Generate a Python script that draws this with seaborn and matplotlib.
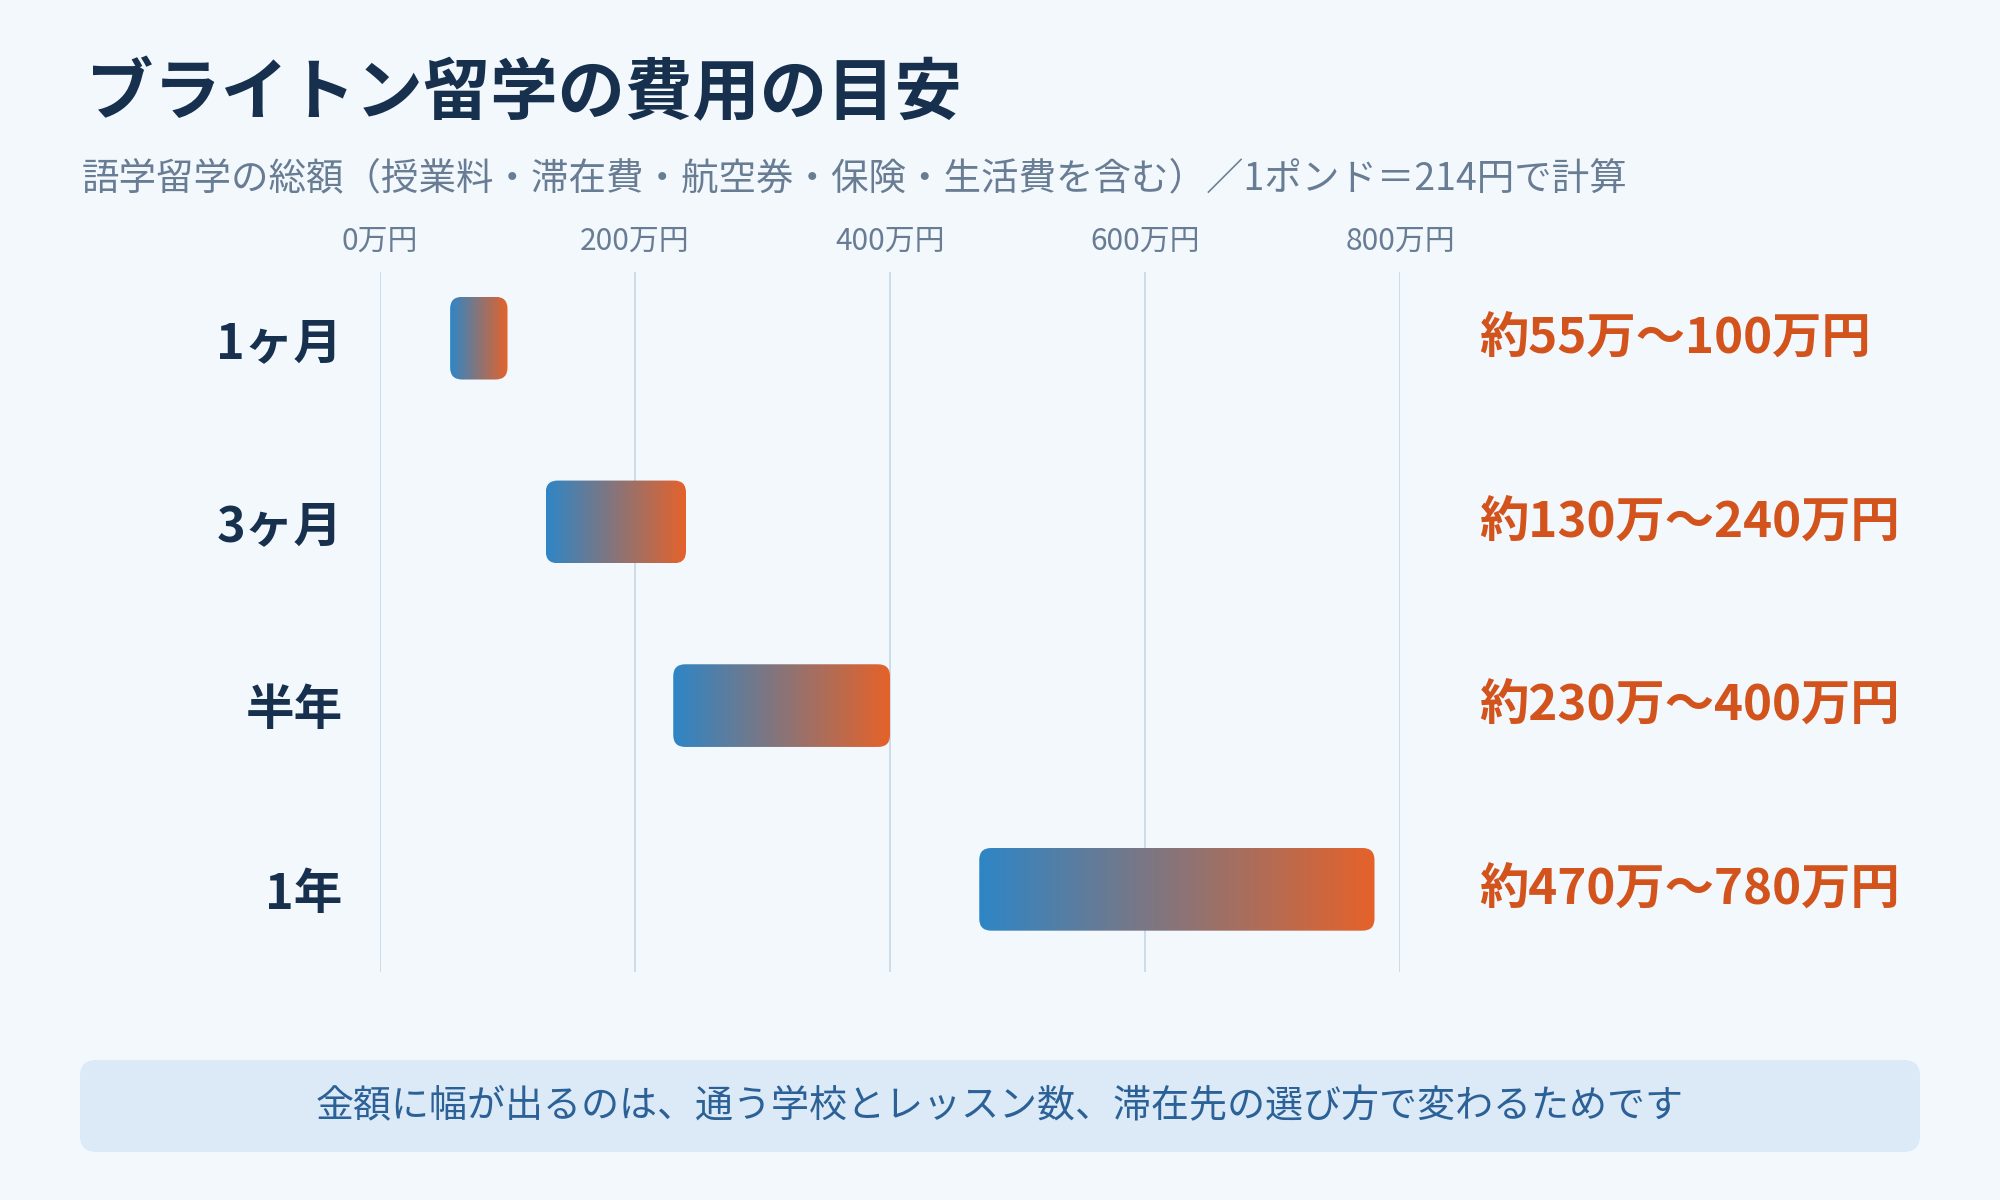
import numpy as np
import pandas as pd
import matplotlib
matplotlib.use("Agg")
import matplotlib.pyplot as plt
import seaborn as sns
from matplotlib.patches import FancyBboxPatch
from matplotlib.colors import LinearSegmentedColormap

# data (万円)
periods = ["1ヶ月", "3ヶ月", "半年", "1年"]
cost_low = [55, 130, 230, 470]
cost_high = [100, 240, 400, 780]
range_labels = ["約55万～100万円", "約130万～240万円", "約230万～400万円", "約470万～780万円"]
tick_values = [0, 200, 400, 600, 800]
tick_labels = ["0万円", "200万円", "400万円", "600万円", "800万円"]

title = "ブライトン留学の費用の目安"
subtitle = "語学留学の総額（授業料・滞在費・航空券・保険・生活費を含む）／1ポンド＝214円で計算"
note = "金額に幅が出るのは、通う学校とレッスン数、滞在先の選び方で変わるためです"

BG = "#f3f8fd"
NAVY = "#16304d"
GREY = "#687d94"
ORANGE = "#d3531d"
GRID = "#c8dae6"

sns.set_theme(style="white")
plt.rcParams["font.family"] = ["Noto Sans CJK JP", "DejaVu Sans"]

df = pd.DataFrame({"period": periods, "low": cost_low, "high": cost_high})
df["span"] = df["high"] - df["low"]

fig = plt.figure(figsize=(20, 12), dpi=100, facecolor=BG)
ax = fig.add_axes([0.19, 0.19, 0.51, 0.5833])
ax.set_facecolor(BG)

sns.barplot(data=df, x="span", y="period", left=df["low"].values,
            orient="y", width=0.45, color="#2f86c5", ax=ax)

ax.set_xlim(0, 800)
ax.set_ylim(3.45, -0.36)
for v in tick_values:
    ax.axvline(v, color=GRID, lw=1.3, zorder=0)
for s in ax.spines.values():
    s.set_visible(False)

ax.xaxis.tick_top()
ax.set_xticks(tick_values)
ax.set_xticklabels(tick_labels, fontsize=21.5, color=GREY)
ax.tick_params(axis="x", length=0, pad=11)
ax.tick_params(axis="y", length=0, pad=27)
for lab in ax.get_yticklabels():
    lab.set_fontsize(35)
    lab.set_fontweight("bold")
    lab.set_color(NAVY)
ax.set_xlabel("")
ax.set_ylabel("")

# replace the flat bars with rounded gradient bars
fig.canvas.draw()
cmap = LinearSegmentedColormap.from_list("grad", ["#2e86c6", "#e5622a"])
grad = np.linspace(0, 1, 256).reshape(1, -1)
px_x = ax.transData.transform([(1, 0)])[0][0] - ax.transData.transform([(0, 0)])[0][0]
px_y = abs(ax.transData.transform([(0, 1)])[0][1] - ax.transData.transform([(0, 0)])[0][1])
radius = 12 / px_x
aspect = (1 / px_y) / (1 / px_x)
for bar in list(ax.patches):
    x0, y0 = bar.get_x(), bar.get_y()
    w, h = bar.get_width(), bar.get_height()
    bar.set_visible(False)
    box = FancyBboxPatch((x0, y0), w, h,
                         boxstyle=f"round,pad=0,rounding_size={radius}",
                         mutation_aspect=aspect, facecolor="none",
                         edgecolor="none", transform=ax.transData)
    ax.add_patch(box)
    im = ax.imshow(grad, cmap=cmap, aspect="auto", extent=(x0, x0 + w, y0 + h, y0),
                   interpolation="bilinear", zorder=3)
    im.set_clip_path(box)
ax.set_xlim(0, 800)
ax.set_ylim(3.45, -0.36)

for i, lab in enumerate(range_labels):
    ax.annotate(lab, xy=(1.078, i), xycoords=("axes fraction", "data"),
                ha="left", va="center", fontsize=35.5, fontweight="bold",
                color=ORANGE, annotation_clip=False)

fig.text(0.043, 0.921, title, fontsize=48.5, fontweight="bold", color=NAVY,
         ha="left", va="center")
fig.text(0.041, 0.851, subtitle, fontsize=27, color=GREY, ha="left", va="center")

note_box = FancyBboxPatch((0.04, 0.04), 0.92, 0.0767,
                          boxstyle="round,pad=0,rounding_size=0.008",
                          mutation_aspect=20 / 12, transform=fig.transFigure,
                          facecolor="#dceaf7", edgecolor="none")
fig.patches.append(note_box)
fig.text(0.5, 0.078, note, fontsize=27.4, color="#2b6197", ha="center", va="center")

fig.savefig("out.png", dpi=100, facecolor=BG)
